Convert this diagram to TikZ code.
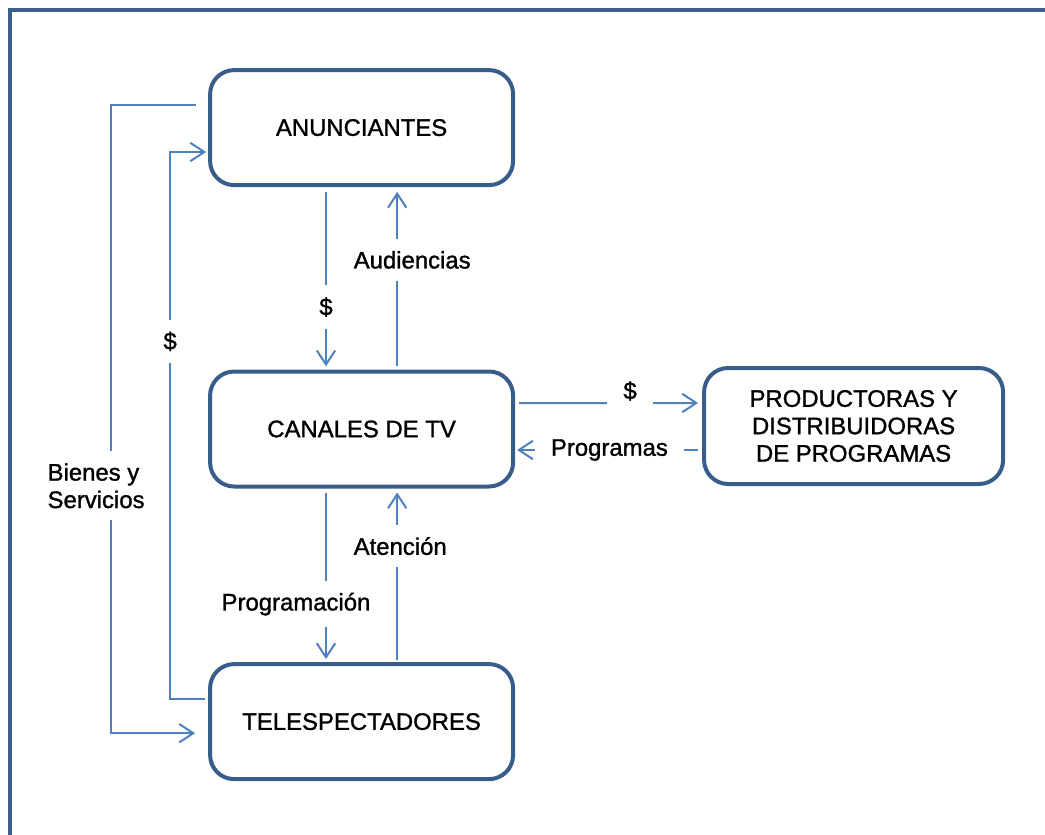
\documentclass[tikz,border=0pt]{standalone}
\usepackage{fontspec}
\setmainfont{Liberation Sans}[FakeBold=1.2]
\usetikzlibrary{arrows.meta,positioning,calc}
\definecolor{frameblue}{HTML}{3B5E8F}
\definecolor{boxline}{HTML}{385D8A}
\definecolor{flow}{HTML}{4F81BD}
\tikzset{
  >={Straight Barb[length=3.5mm,width=4.6mm]},
  every node/.style={font=\fontsize{17}{19.5}\selectfont,text=black},
  actor/.style={draw=boxline,line width=0.1cm,rounded corners=0.6cm,fill=white,align=center,minimum width=7.575cm,minimum height=2.875cm},
  conn/.style={->,draw=flow,line width=0.05cm},
  lbl/.style={fill=white,inner xsep=0.4cm,inner ysep=0.3cm,align=left},
  outer/.style={draw=frameblue,line width=0.1cm},
}

\begin{document}
\begin{tikzpicture}

\useasboundingbox (0,0) rectangle (26.125,-20.875);
\draw[outer] (0.25,-0.25) rectangle (27,-22);

% ---------- boxes ----------
\node[actor] (anun) at (9.04,-3.19) {ANUNCIANTES};
\node[actor] (canal) at (9.04,-10.725) {CANALES DE TV};
\node[actor] (tele) at (9.04,-18.04) {TELESPECTADORES};
\node[actor,minimum width=7.475cm,minimum height=2.9cm] (prod) at (21.34,-10.65) {PRODUCTORAS Y\\DISTRIBUIDORAS\\DE PROGRAMAS};

% ---------- outer loops ----------
\draw[conn] ([xshift=-0.3cm,yshift=0.56cm]anun.west) -- ++(-2.125,0)
  |- node[lbl,pos=0.303,xshift=-0.375cm]{Bienes y\\Servicios} ([xshift=-0.325cm,yshift=-0.29cm]tele.west);
\draw[conn] ([xshift=-0.075cm,yshift=0.56cm]tele.west) -- ++(-0.875,0)
  |- node[lbl,pos=0.327]{\$} ([xshift=-0.05cm,yshift=-0.61cm]anun.west);

% ---------- vertical flows ----------
\draw[conn] ([xshift=-0.89cm,yshift=-0.125cm]anun.south) -- node[lbl,pos=0.66]{\$} ([xshift=-0.89cm,yshift=0.08cm]canal.north);
\draw[conn] ([xshift=0.89cm,yshift=0.08cm]canal.north) -- node[lbl,pos=0.61,xshift=0.375cm]{Audiencias} ([xshift=0.89cm,yshift=-0.12cm]anun.south);
\draw[conn] ([xshift=-0.89cm,yshift=-0.1cm]canal.south) -- node[lbl,pos=0.67,xshift=-0.75cm]{Programación} ([xshift=-0.89cm,yshift=0.075cm]tele.north);
\draw[conn] ([xshift=0.89cm,yshift=0.05cm]tele.north) -- node[lbl,pos=0.68,xshift=0.075cm]{Atención} ([xshift=0.89cm,yshift=-0.1cm]canal.south);

% ---------- producers ----------
\draw[conn] ([xshift=0.1cm,yshift=0.65cm]canal.east) -- node[lbl,pos=0.62,yshift=0.3cm]{\$} ([xshift=-0.1cm,yshift=0.575cm]prod.west);
\draw[conn] ([xshift=-0.1cm,yshift=-0.6cm]prod.west) -- node[lbl,pos=0.49]{Programas} ([xshift=0.05cm,yshift=-0.525cm]canal.east);

\end{tikzpicture}
\end{document}
